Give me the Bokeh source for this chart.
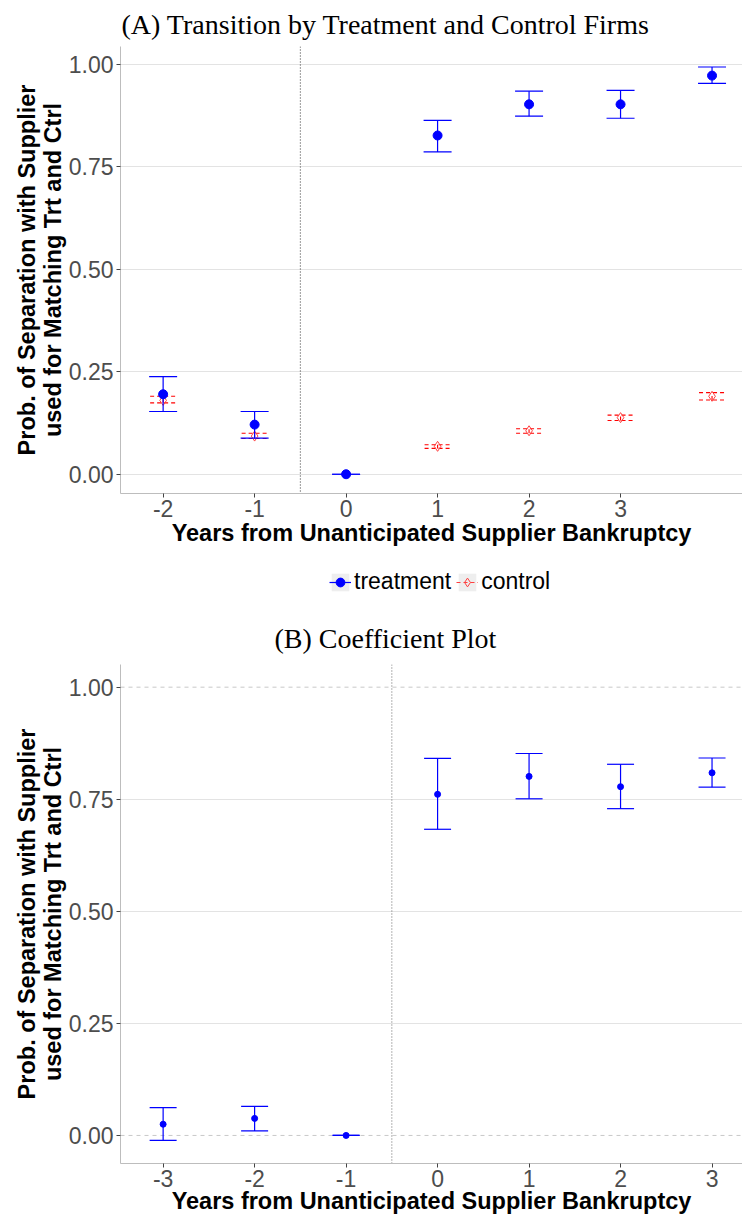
from bokeh.plotting import figure
from bokeh.layouts import column
from bokeh.models import Range1d, FixedTicker, Span, Legend, LegendItem, ColumnDataSource
from bokeh.embed import file_html
from bokeh.resources import INLINE

# ---------------- data ----------------
# Panel A: transition by treatment and control firms
a_years = [-2, -1, 0, 1, 2, 3, 4]
treat_mean = [0.195, 0.121, 0.000, 0.826, 0.902, 0.902, 0.972]
treat_lo = [0.153, 0.088, 0.000, 0.786, 0.873, 0.868, 0.953]
treat_hi = [0.238, 0.153, 0.000, 0.863, 0.934, 0.936, 0.993]

ctrl_years = [-2, -1, 1, 2, 3, 4]
ctrl_mean = [0.180, 0.093, 0.068, 0.106, 0.138, 0.190]
ctrl_lo = [0.174, 0.087, 0.063, 0.100, 0.131, 0.181]
ctrl_hi = [0.190, 0.100, 0.072, 0.111, 0.144, 0.199]

a_xticks = [-2, -1, 0, 1, 2, 3]
a_xlabels = ["-2", "-1", "0", "1", "2", "3"]

# Panel B: coefficient plot
b_years = [-3, -2, -1, 0, 1, 2, 3]
coef = [0.025, 0.038, 0.000, 0.761, 0.801, 0.778, 0.809]
coef_lo = [-0.011, 0.010, 0.000, 0.683, 0.751, 0.729, 0.777]
coef_hi = [0.062, 0.065, 0.000, 0.841, 0.852, 0.828, 0.842]

b_xticks = [-3, -2, -1, 0, 1, 2, 3]
b_xlabels = ["-3", "-2", "-1", "0", "1", "2", "3"]

yticks = [0.0, 0.25, 0.5, 0.75, 1.0]
ylabels = ["0.00", "0.25", "0.50", "0.75", "1.00"]

event_x = -0.5
ref_lines = [0.0, 1.0]

XLAB = "Years from Unanticipated Supplier Bankruptcy"
YLAB = "Prob. of Separation with Supplier\nused for Matching Trt and Ctrl"
series_names = ["treatment", "control"]

BLUE = "#0000ff"
RED = "#ff0000"
SANS = "Liberation Sans"
SERIF = "Liberation Serif"


def style(p, xticks, xlabels):
    p.outline_line_color = None
    p.background_fill_color = "white"
    p.border_fill_color = "white"
    p.xgrid.visible = False
    for ax, ticks, labels in ((p.xaxis[0], xticks, xlabels), (p.yaxis[0], yticks, ylabels)):
        ax.ticker = FixedTicker(ticks=ticks)
        ax.major_label_overrides = {t: l for t, l in zip(ticks, labels)}
        ax.minor_tick_line_color = None
        ax.major_tick_line_color = "#444444"
        ax.major_tick_out = 4
        ax.major_tick_in = 0
        ax.axis_line_color = "#bdbdbd"
        ax.major_label_text_font = SANS
        ax.major_label_text_font_size = "23px"
        ax.major_label_text_color = "#4d4d4d"
        ax.axis_label_text_font = SANS
        ax.axis_label_text_font_size = "23.5px"
        ax.axis_label_text_font_style = "bold"
        ax.axis_label_text_color = "black"
        ax.axis_label_text_line_height = 1.0
    p.xaxis.axis_label = XLAB
    p.yaxis.axis_label = YLAB
    p.xaxis.major_label_standoff = 2
    p.xaxis.axis_label_standoff = 0
    p.yaxis.major_label_standoff = 3
    p.yaxis.axis_label_standoff = 0
    p.title.text_font = SERIF
    p.title.text_font_size = "28px"
    p.title.text_font_style = "normal"
    p.title.text_color = "black"
    p.title.align = "left"
    p.title.vertical_align = "top"
    p.title.standoff = 10


def add_errorbars(p, src, color, cap, dash, width):
    stem = p.segment(x0="x", y0="lo", x1="x", y1="hi", source=src, line_color=color,
                     line_width=width, line_dash=dash)
    p.scatter(x="x", y="lo", source=src, marker="dash", size=cap, line_color=color,
              line_width=width, line_dash=dash)
    p.scatter(x="x", y="hi", source=src, marker="dash", size=cap, line_color=color,
              line_width=width, line_dash=dash)
    return stem


# ---------------- panel A ----------------
pA = figure(width=742, height=560, x_range=Range1d(-2.466, 4.333), y_range=Range1d(-0.047, 1.043),
            output_backend="svg", toolbar_location=None, title="(A) Transition by Treatment and Control Firms",
            min_border_left=120, min_border_right=0, min_border_top=46, min_border_bottom=67)
style(pA, a_xticks, a_xlabels)
pA.title.offset = 1
pA.ygrid.ticker = FixedTicker(ticks=yticks)
pA.ygrid.grid_line_color = "#e3e3e3"
pA.ygrid.grid_line_width = 1
pA.add_layout(Span(location=event_x, dimension="height", line_color="#333333",
                   line_dash="1 2", line_width=1, level="underlay"))

csrc = ColumnDataSource(dict(x=ctrl_years, m=ctrl_mean, lo=ctrl_lo, hi=ctrl_hi))
tsrc = ColumnDataSource(dict(x=a_years, m=treat_mean, lo=treat_lo, hi=treat_hi))

add_errorbars(pA, csrc, RED, 26, "4 3", 1.1)
pA.scatter(x="x", y="m", source=csrc, marker="diamond", size=10,
           fill_color=None, line_color="#ff4040", line_width=1)
add_errorbars(pA, tsrc, BLUE, 28, "solid", 1.2)
pA.scatter(x="x", y="m", source=tsrc, marker="circle", size=9, color=BLUE)

# ---------------- legend strip ----------------
pL = figure(width=742, height=50, x_range=Range1d(0, 1), y_range=Range1d(5, 6),
            output_backend="svg", toolbar_location=None, min_border=0,
            x_axis_location=None, y_axis_location=None)
pL.outline_line_color = None
pL.grid.visible = False
t_bg = pL.rect(x="x", y="m", width=0, height=0, source=tsrc, fill_color="#eeeeee", line_color=None)
t_stem = pL.segment(x0="x", y0="lo", x1="x", y1="hi", source=tsrc, line_color=BLUE, line_width=1.2)
t_pts = pL.scatter(x="x", y="m", source=tsrc, marker="circle", size=9, color=BLUE)
c_bg = pL.rect(x="x", y="m", width=0, height=0, source=csrc, fill_color="#eeeeee", line_color=None)
c_stem = pL.segment(x0="x", y0="lo", x1="x", y1="hi", source=csrc, line_color="#ff4040",
                    line_width=1.1, line_dash="4 3")
c_pts = pL.scatter(x="x", y="m", source=csrc, marker="diamond", size=10,
                   fill_color=None, line_color="#ff4040", line_width=1)
legend = Legend(items=[LegendItem(label=series_names[0], renderers=[t_bg, t_stem, t_pts]),
                       LegendItem(label=series_names[1], renderers=[c_bg, c_stem, c_pts])],
                orientation="horizontal", location=(209, 15),
                glyph_width=22, glyph_height=22, label_standoff=3, spacing=5,
                padding=4, margin=0, border_line_color=None, background_fill_alpha=0,
                label_text_font=SANS, label_text_font_size="23px", label_text_color="black")
pL.add_layout(legend, "center")

# ---------------- panel B ----------------
pB = figure(width=742, height=606, x_range=Range1d(-3.466, 3.333), y_range=Range1d(-0.0626, 1.0506),
            output_backend="svg", toolbar_location=None, title="(B) Coefficient Plot",
            min_border_left=120, min_border_right=0, min_border_top=54, min_border_bottom=51)
style(pB, b_xticks, b_xlabels)
pB.xaxis.major_label_standoff = 2
pB.xaxis.axis_label_standoff = -2
pB.title.offset = 154
pB.title.standoff = 18
pB.ygrid.ticker = FixedTicker(ticks=[0.25, 0.5, 0.75])
pB.ygrid.grid_line_color = "#e3e3e3"
pB.ygrid.grid_line_width = 1
for yv in ref_lines:
    pB.add_layout(Span(location=yv, dimension="width", line_color="#c8c8c8",
                       line_dash="4 4", line_width=1, level="underlay"))
pB.add_layout(Span(location=event_x, dimension="height", line_color="#666666",
                   line_dash="1 2", line_width=1, level="underlay"))

bsrc = ColumnDataSource(dict(x=b_years, m=coef, lo=coef_lo, hi=coef_hi))
add_errorbars(pB, bsrc, BLUE, 27, "solid", 1.2)
pB.scatter(x="x", y="m", source=bsrc, marker="circle", size=6, color=BLUE)

layout = column(pA, pL, pB, spacing=0)
open("out.html", "w").write(file_html(layout, INLINE))
